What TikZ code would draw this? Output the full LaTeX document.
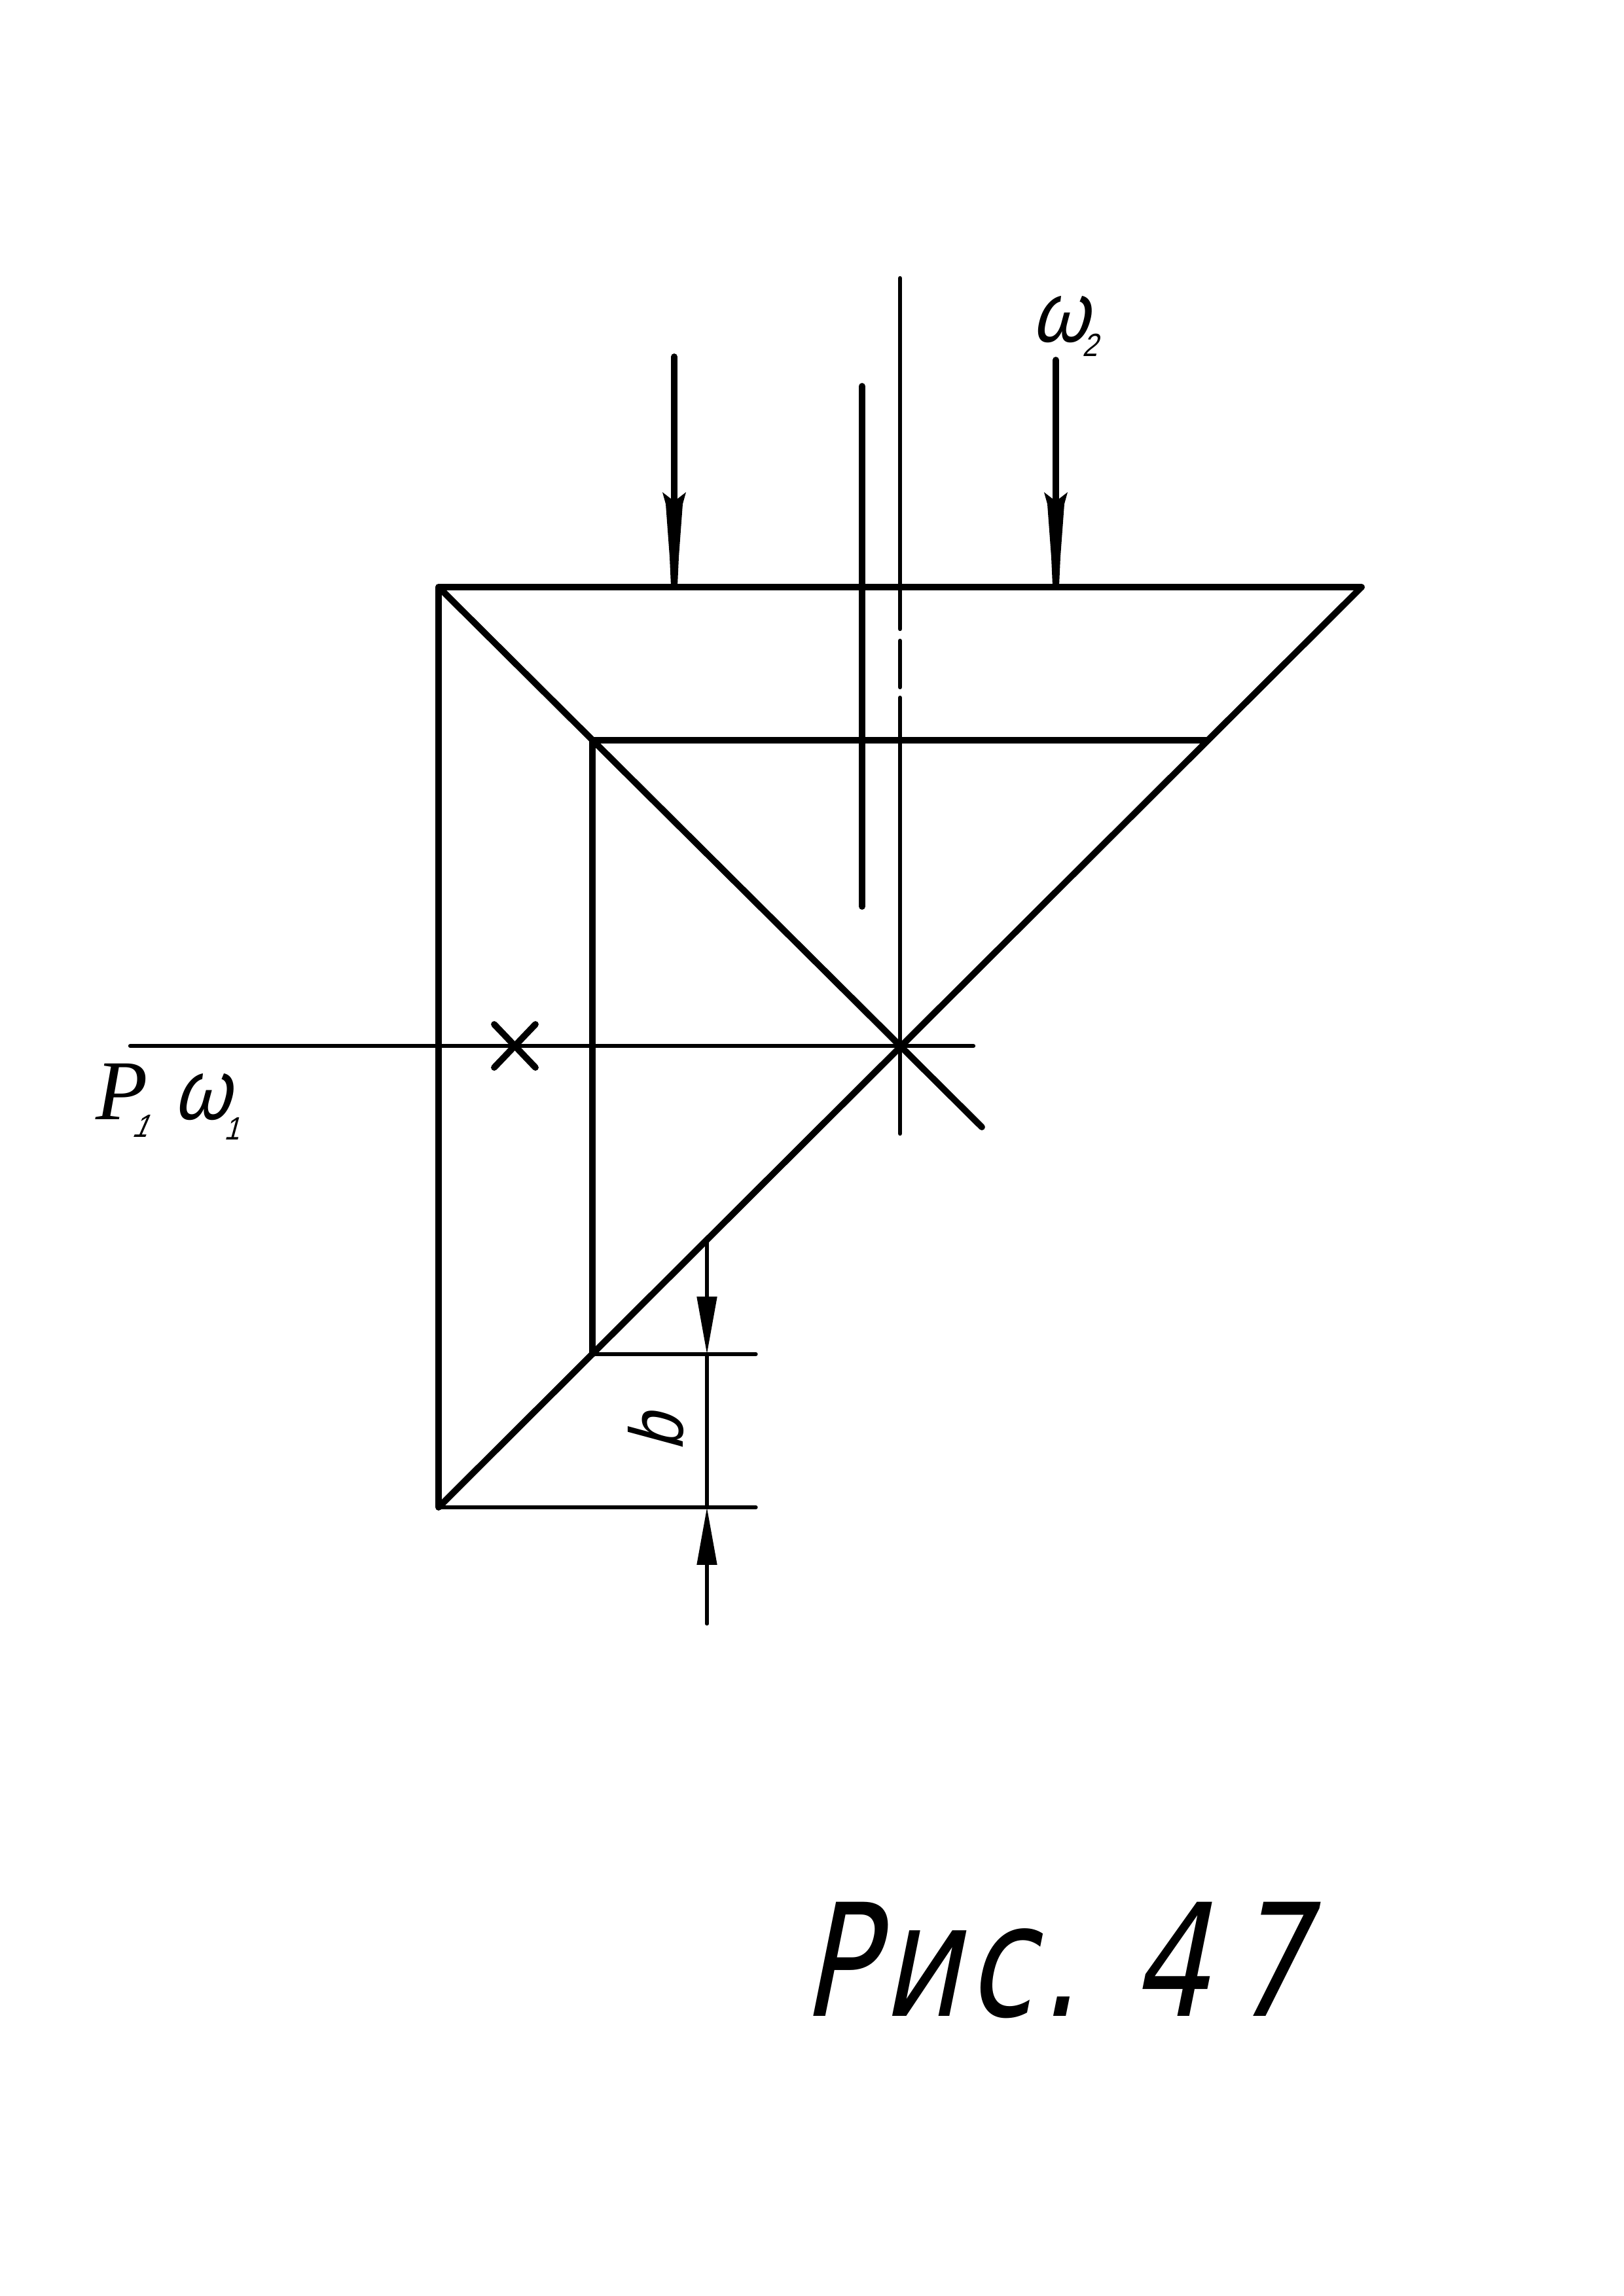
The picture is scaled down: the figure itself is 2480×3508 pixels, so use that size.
\documentclass[tikz,border=0pt]{standalone}
\usepackage{fontspec}
\setmainfont{Liberation Sans}
\newfontfamily\gostfont[FakeSlant=0.27,FakeStretch=0.85]{Liberation Sans}
\newfontfamily\capfont[FakeSlant=0.2,FakeStretch=0.78,LetterSpace=4]{DejaVu Sans}
\newfontfamily\pfont{Liberation Serif}
\usetikzlibrary{arrows.meta}

\begin{document}
\begin{tikzpicture}[
        x=0.01cm, y=-0.01cm, % one unit is one pixel of the sheet
        heavyline/.style={line width=2.8pt, line cap=round, line join=round},
        axisline/.style={line width=1.8pt, line cap=round},
        dimline/.style={line width=1.5pt, line cap=round},
        dimtip/.style={-{Triangle[length=25pt,width=8.5pt]}},
        letter/.style={inner sep=0pt, anchor=base west}
    ]
\useasboundingbox (0,0) rectangle (2480,3508);

% Corners of the section
\coordinate (TL) at (670,897);
\coordinate (TR) at (2080,897);
\coordinate (BL) at (670,2303);
\coordinate (IT) at (905,1131);
\coordinate (IR) at (1845,1131);
\coordinate (IB) at (905,2069);
\coordinate (C) at (1375,1598);
\coordinate (DE) at (1500,1722);

% Main outline
\draw[heavyline] (BL) -- (TL) -- (TR) -- (BL);
\draw[heavyline] (TL) -- (DE);
\draw[heavyline] (IR) -- (IT) -- (IB);

% Axes through the centre
\coordinate (AT) at (1375,425);
\coordinate (AB) at (1375,1732);
\coordinate (AL) at (199,1598);
\coordinate (AR) at (1487,1598);
\draw[axisline] (AT) -- (1375,961);
\draw[axisline] (1375,979) -- (1375,1050);
\draw[axisline] (1375,1066) -- (AB);
\draw[axisline] (AL) -- (AR);
\draw[heavyline] (1317,590) -- (1317,1385);

% Mark on the trace
\draw[heavyline] (755,1565) -- (818,1631);
\draw[heavyline] (818,1565) -- (755,1631);

% Projection arrows, the heads end blunt on the top edge
\foreach \ax/\ay in {1030/545, 1613/550} {
    \draw[heavyline] (\ax,\ay) -- (\ax,897);
    \fill[line join=round] (\ax-18,752) -- (\ax-5,762) -- (\ax+5,762) -- (\ax+18,752)
        -- (\ax+13,770) -- (\ax+7,851) -- (\ax+5,895) -- (\ax-5,895)
        -- (\ax-7,851) -- (\ax-13,770) -- cycle;
}

% Dimension b
\coordinate (DT) at (1080,1895);
\coordinate (DB) at (1080,2481);
\coordinate (UE) at (1155,2069);
\coordinate (LE) at (1155,2303);
\draw[dimline] (IB) -- (UE);
\draw[dimline] (BL) -- (LE);
\draw[dimline,dimtip] (DT) -- (1080,2069);
\draw[dimline] (1080,2069) -- (1080,2303);
\draw[dimline,dimtip] (DB) -- (1080,2303);

% Labels
\node[letter,rotate=90] (bLabel) at (1043,2218) {\fontsize{33pt}{33pt}\gostfont b};
\node[letter] (omegaTwo) at (1575,522) {\fontsize{37pt}{37pt}\gostfont ω\kern -2.5pt\raisebox{-6.5pt}{\fontsize{14pt}{14pt}\gostfont 2}};
\node[letter] (pointP) at (146,1710) {\fontsize{37pt}{37pt}\pfont\itshape P\kern-6.5pt\raisebox{-7.7pt}{\fontsize{14pt}{14pt}\gostfont 1}};
\node[letter] (omegaOne) at (264,1710) {\fontsize{37pt}{37pt}\gostfont ω\kern -2.5pt\raisebox{-9pt}{\fontsize{14pt}{14pt}\gostfont 1}};
\node[letter] (figCaption) at (1224,3080) {\fontsize{68pt}{68pt}\capfont Рис.\hspace{22.5pt}4\hspace{9.5pt}7};

\end{tikzpicture}
\end{document}
